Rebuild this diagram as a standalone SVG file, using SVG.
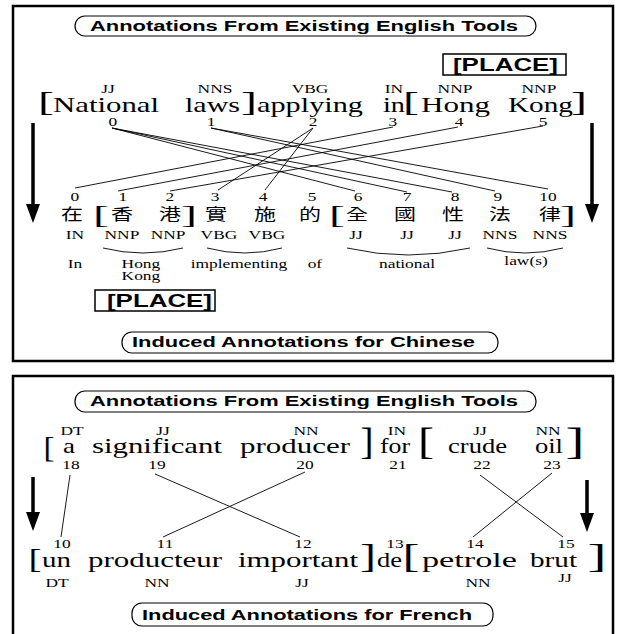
<svg xmlns="http://www.w3.org/2000/svg" width="619" height="634" viewBox="0 0 619 634">
<defs>
<style>
.frame{fill:none;stroke:#000;stroke-width:2.5}
.pill{fill:#fff;stroke:#000;stroke-width:1.2}
.box{fill:#fff;stroke:#000;stroke-width:1.5}
.title{font-family:"Liberation Sans",Arial,sans-serif;font-weight:bold;font-size:14px}
.place{font-family:"Liberation Sans",Arial,sans-serif;font-weight:bold;font-size:18px}
.w{font-family:"Liberation Serif","Times New Roman",serif;font-size:22px}
.br{font-family:"Liberation Serif","Times New Roman",serif;text-anchor:middle}
.s{font-family:"Liberation Serif","Times New Roman",serif;font-size:12px;text-anchor:middle;transform:scale(1.45,1)}
.zh{font-family:"Noto Sans CJK TC","Noto Sans CJK SC",sans-serif;font-size:16px;text-anchor:middle}
.link{stroke:#000;stroke-width:0.9;fill:none}
.brace{fill:none;stroke:#000;stroke-width:0.9}
.arrow{stroke:#000;stroke-width:3.5;fill:none;marker-end:url(#ah)}
</style>
<marker id="ah" markerUnits="userSpaceOnUse" viewBox="0 0 19 14" refX="0" refY="7" markerWidth="19" markerHeight="14" orient="auto">
<path d="M0,0 L19,7 L0,14 Z" fill="#000"/>
</marker>
</defs>

<!-- ===== Top panel (Chinese) ===== -->
<rect class="frame" x="13" y="6" width="600" height="355"/>
<g id="title-top">
<rect class="pill" x="75" y="16" width="461" height="20" rx="10"/>
<text class="title" x="90" y="31" textLength="428" lengthAdjust="spacingAndGlyphs">Annotations From Existing English Tools</text>
</g>
<g id="place-en">
<rect class="box" x="443" y="54" width="123" height="21"/>
<text class="place" x="453" y="71" textLength="105" lengthAdjust="spacingAndGlyphs">[PLACE]</text>
</g>

<g id="en-brackets">
<text class="br" x="46" y="111" font-size="27" textLength="16" lengthAdjust="spacingAndGlyphs">[</text>
<text class="br" x="249" y="111" font-size="27" textLength="16" lengthAdjust="spacingAndGlyphs">]</text>
<text class="br" x="411" y="111" font-size="27" textLength="16" lengthAdjust="spacingAndGlyphs">[</text>
<text class="br" x="579" y="111" font-size="27" textLength="16" lengthAdjust="spacingAndGlyphs">]</text>
</g>
<g id="en0"><text class="s" x="74.5" y="93">JJ</text><text class="w" x="53" y="112" textLength="106" lengthAdjust="spacingAndGlyphs">National</text><text class="s" x="77.9" y="126">0</text></g>
<g id="en1"><text class="s" x="148.3" y="93">NNS</text><text class="w" x="185" y="112" textLength="55" lengthAdjust="spacingAndGlyphs">laws</text><text class="s" x="145.5" y="126">1</text></g>
<g id="en2"><text class="s" x="213.8" y="93">VBG</text><text class="w" x="257" y="112" textLength="106" lengthAdjust="spacingAndGlyphs">applying</text><text class="s" x="215.9" y="126">2</text></g>
<g id="en3"><text class="s" x="271.7" y="93">IN</text><text class="w" x="383" y="112" textLength="22" lengthAdjust="spacingAndGlyphs">in</text><text class="s" x="271" y="126">3</text></g>
<g id="en4"><text class="s" x="313.8" y="93">NNP</text><text class="w" x="421" y="112" textLength="69" lengthAdjust="spacingAndGlyphs">Hong</text><text class="s" x="316.6" y="126">4</text></g>
<g id="en5"><text class="s" x="371.7" y="93">NNP</text><text class="w" x="508" y="112" textLength="65" lengthAdjust="spacingAndGlyphs">Kong</text><text class="s" x="374.5" y="126">5</text></g>

<g id="zh-brackets">
<text class="br" x="101" y="223" font-size="25" textLength="16" lengthAdjust="spacingAndGlyphs">[</text>
<text class="br" x="189" y="223" font-size="25" textLength="16" lengthAdjust="spacingAndGlyphs">]</text>
<text class="br" x="337" y="223" font-size="25" textLength="16" lengthAdjust="spacingAndGlyphs">[</text>
<text class="br" x="568" y="223" font-size="25" textLength="16" lengthAdjust="spacingAndGlyphs">]</text>
</g>
<g id="zh0"><text class="s" x="51.7" y="201">0</text><text class="zh" x="72" y="220" textLength="22" lengthAdjust="spacingAndGlyphs">在</text><text class="s" x="51.7" y="239">IN</text></g>
<g id="zh1"><text class="s" x="84.8" y="201">1</text><text class="zh" x="122" y="220" textLength="22" lengthAdjust="spacingAndGlyphs">香</text><text class="s" x="84.1" y="239">NNP</text></g>
<g id="zh2"><text class="s" x="117.2" y="201">2</text><text class="zh" x="170" y="220" textLength="22" lengthAdjust="spacingAndGlyphs">港</text><text class="s" x="115.9" y="239">NNP</text></g>
<g id="zh3"><text class="s" x="148.3" y="201">3</text><text class="zh" x="216" y="220" textLength="22" lengthAdjust="spacingAndGlyphs">實</text><text class="s" x="151" y="239">VBG</text></g>
<g id="zh4"><text class="s" x="181.4" y="201">4</text><text class="zh" x="265" y="220" textLength="22" lengthAdjust="spacingAndGlyphs">施</text><text class="s" x="184.1" y="239">VBG</text></g>
<g id="zh5"><text class="s" x="215.2" y="201">5</text><text class="zh" x="310" y="220" textLength="22" lengthAdjust="spacingAndGlyphs">的</text></g>
<g id="zh6"><text class="s" x="246.9" y="201">6</text><text class="zh" x="357" y="220" textLength="22" lengthAdjust="spacingAndGlyphs">全</text><text class="s" x="245.5" y="239">JJ</text></g>
<g id="zh7"><text class="s" x="280.7" y="201">7</text><text class="zh" x="405" y="220" textLength="22" lengthAdjust="spacingAndGlyphs">國</text><text class="s" x="280.7" y="239">JJ</text></g>
<g id="zh8"><text class="s" x="313.8" y="201">8</text><text class="zh" x="453" y="220" textLength="22" lengthAdjust="spacingAndGlyphs">性</text><text class="s" x="313.8" y="239">JJ</text></g>
<g id="zh9"><text class="s" x="343.4" y="201">9</text><text class="zh" x="500" y="220" textLength="22" lengthAdjust="spacingAndGlyphs">法</text><text class="s" x="344.8" y="239">NNS</text></g>
<g id="zh10"><text class="s" x="377.9" y="201">10</text><text class="zh" x="550" y="220" textLength="22" lengthAdjust="spacingAndGlyphs">律</text><text class="s" x="379.3" y="239">NNS</text></g>

<g id="braces">
<path class="brace" d="M103,248 Q143,258 183,248"/>
<path class="brace" d="M207,248 Q245,258 282,248"/>
<path class="brace" d="M347,248 Q408,262 470,248"/>
<path class="brace" d="M487,248 Q525,258 563,248"/>
</g>
<g id="gloss">
<text class="s" x="51.7" y="268">In</text>
<text class="s" x="97.2" y="268">Hong</text>
<text class="s" x="97.2" y="280">Kong</text>
<text class="s" x="164.8" y="268">implementing</text>
<text class="s" x="217.2" y="268">of</text>
<text class="s" x="280.7" y="268">national</text>
<text class="s" x="362.8" y="265">law(s)</text>
</g>
<g id="place-zh">
<rect class="box" x="95" y="290" width="120" height="21"/>
<text class="place" x="107" y="307" textLength="105" lengthAdjust="spacingAndGlyphs">[PLACE]</text>
</g>
<g id="title-zh">
<rect class="pill" x="122" y="332" width="376" height="21" rx="10"/>
<text class="title" x="132" y="347" textLength="343" lengthAdjust="spacingAndGlyphs">Induced Annotations for Chinese</text>
</g>

<!-- ===== Bottom panel (French) ===== -->
<rect class="frame" x="13" y="376" width="600" height="264"/>
<g id="title-bottom">
<rect class="pill" x="75" y="391" width="461" height="21" rx="10"/>
<text class="title" x="90" y="406" textLength="428" lengthAdjust="spacingAndGlyphs">Annotations From Existing English Tools</text>
</g>

<g id="en2-brackets">
<text class="br" x="49" y="457" font-size="30" textLength="11" lengthAdjust="spacingAndGlyphs">[</text>
<text class="br" x="367" y="454" font-size="37" textLength="13" lengthAdjust="spacingAndGlyphs">]</text>
<text class="br" x="426" y="454" font-size="37" textLength="16" lengthAdjust="spacingAndGlyphs">[</text>
<text class="br" x="575" y="454" font-size="37" textLength="19" lengthAdjust="spacingAndGlyphs">]</text>
</g>
<g id="e18"><text class="s" x="49.7" y="435">DT</text><text class="w" x="63" y="453" textLength="12" lengthAdjust="spacingAndGlyphs">a</text><text class="s" x="49" y="469">18</text></g>
<g id="e19"><text class="s" x="112.4" y="435">JJ</text><text class="w" x="92" y="453" textLength="130" lengthAdjust="spacingAndGlyphs">significant</text><text class="s" x="108.3" y="469">19</text></g>
<g id="e20"><text class="s" x="211" y="435">NN</text><text class="w" x="240" y="453" textLength="110" lengthAdjust="spacingAndGlyphs">producer</text><text class="s" x="210.3" y="469">20</text></g>
<g id="e21"><text class="s" x="273.8" y="435">IN</text><text class="w" x="380" y="453" textLength="30" lengthAdjust="spacingAndGlyphs">for</text><text class="s" x="274.5" y="469">21</text></g>
<g id="e22"><text class="s" x="331" y="435">JJ</text><text class="w" x="448" y="453" textLength="59" lengthAdjust="spacingAndGlyphs">crude</text><text class="s" x="332.4" y="469">22</text></g>
<g id="e23"><text class="s" x="377.9" y="435">NN</text><text class="w" x="535" y="453" textLength="28" lengthAdjust="spacingAndGlyphs">oil</text><text class="s" x="380.7" y="469">23</text></g>

<g id="fr-brackets">
<text class="br" x="35" y="568" font-size="28" textLength="13" lengthAdjust="spacingAndGlyphs">[</text>
<text class="br" x="368" y="567" font-size="33" textLength="16" lengthAdjust="spacingAndGlyphs">]</text>
<text class="br" x="411" y="567" font-size="34" textLength="17" lengthAdjust="spacingAndGlyphs">[</text>
<text class="br" x="597" y="567" font-size="34" textLength="19" lengthAdjust="spacingAndGlyphs">]</text>
</g>
<g id="f10"><text class="s" x="42.8" y="548">10</text><text class="w" x="42" y="567" textLength="29" lengthAdjust="spacingAndGlyphs">un</text><text class="s" x="39.3" y="587">DT</text></g>
<g id="f11"><text class="s" x="113.8" y="548">11</text><text class="w" x="88" y="567" textLength="134" lengthAdjust="spacingAndGlyphs">producteur</text><text class="s" x="108.3" y="587">NN</text></g>
<g id="f12"><text class="s" x="209" y="548">12</text><text class="w" x="238" y="567" textLength="120" lengthAdjust="spacingAndGlyphs">important</text><text class="s" x="208.3" y="587">JJ</text></g>
<g id="f13"><text class="s" x="272.4" y="548">13</text><text class="w" x="377" y="567" textLength="25" lengthAdjust="spacingAndGlyphs">de</text></g>
<g id="f14"><text class="s" x="327.6" y="548">14</text><text class="w" x="422" y="567" textLength="95" lengthAdjust="spacingAndGlyphs">petrole</text><text class="s" x="329.7" y="587">NN</text></g>
<g id="f15"><text class="s" x="390.3" y="548">15</text><text class="w" x="530" y="567" textLength="47" lengthAdjust="spacingAndGlyphs">brut</text><text class="s" x="389.7" y="582">JJ</text></g>

<g id="title-fr">
<rect class="pill" x="132" y="603" width="361" height="23" rx="10"/>
<text class="title" x="142" y="620" textLength="330" lengthAdjust="spacingAndGlyphs">Induced Annotations for French</text>
</g>

<!-- ===== Connectors ===== -->
<g id="connectors">
<line class="link" x1="112" y1="128" x2="355" y2="191"/>
<line class="link" x1="112" y1="128" x2="407" y2="192"/>
<line class="link" x1="112" y1="128" x2="452" y2="192"/>
<line class="link" x1="211" y1="128" x2="495" y2="191"/>
<line class="link" x1="211" y1="128" x2="548" y2="189"/>
<line class="link" x1="313" y1="128" x2="218" y2="190"/>
<line class="link" x1="313" y1="128" x2="265" y2="190"/>
<line class="link" x1="393" y1="127" x2="75" y2="188"/>
<line class="link" x1="458" y1="127" x2="118" y2="191"/>
<line class="link" x1="543" y1="126" x2="170" y2="191"/>

<line class="link" x1="70" y1="475" x2="61" y2="537"/>
<line class="link" x1="155" y1="474" x2="300" y2="537"/>
<line class="link" x1="305" y1="472" x2="163" y2="537"/>
<line class="link" x1="480" y1="475" x2="563" y2="537"/>
<line class="link" x1="552" y1="473" x2="473" y2="537"/>

<line class="arrow" x1="33" y1="123" x2="33" y2="204"/>
<line class="arrow" x1="592" y1="123" x2="592" y2="204"/>
<line class="arrow" x1="33" y1="477" x2="33" y2="512"/>
<line class="arrow" x1="587" y1="480" x2="587" y2="513"/>
</g>
</svg>
